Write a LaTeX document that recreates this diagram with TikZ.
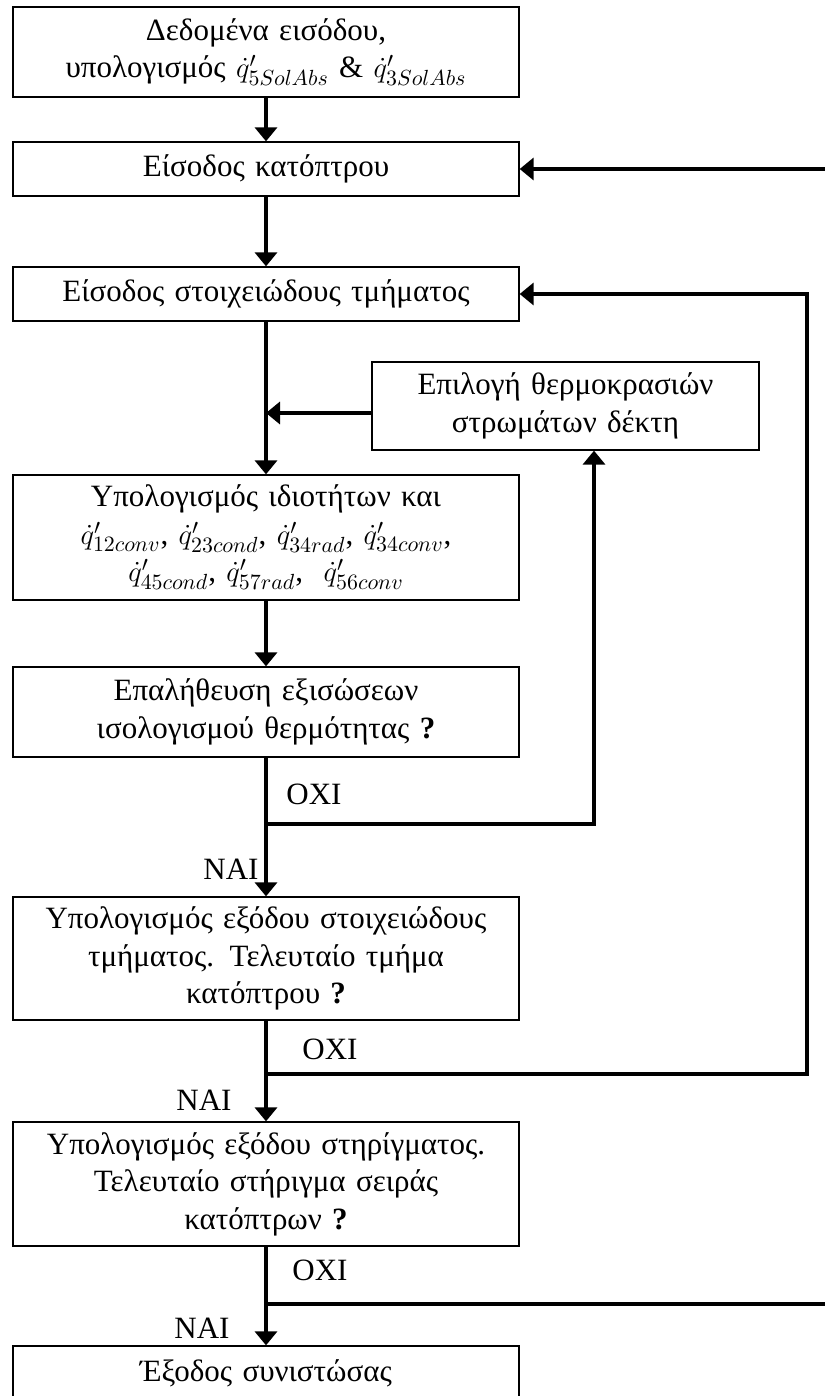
\documentclass[tikz,border=0pt]{standalone}
\usepackage{fontspec}
\setmainfont{Liberation Serif}
\usepackage{tikz}
\usetikzlibrary{arrows.meta}
\tikzstyle{block} = [rectangle, draw=black, line width=0.65pt, text centered, text width=245pt, inner xsep=4pt, inner ysep=2pt, minimum height=27pt, font=\fontsize{15.5}{18.75}\selectfont]
\tikzstyle{side} = [block, text width=185.5pt]
\tikzstyle{answer} = [font=\fontsize{15.5}{18.75}\selectfont, inner sep=0pt]
\tikzstyle{flow} = [draw, line width=2pt, -{Triangle[length=7pt,width=11pt]}]
\tikzstyle{line} = [draw, line width=2pt]

\begin{document}
\begin{tikzpicture}[x=0.5pt, y=-0.5pt]
\useasboundingbox (0,0) rectangle (824,1396);

\node (input) [block, minimum height=45pt] at (266,52) {Δεδομένα εισόδου,\\υπολογισμός $\dot{q}'_{5SolAbs}$ \& $\dot{q}'_{3SolAbs}$};
\node (mirror) [block, below of=input, node distance=58.5pt] {Είσοδος κατόπτρου};
\node (element) [block, below of=mirror, node distance=62.5pt] {Είσοδος στοιχειώδους τμήματος};
\node (props) [block, minimum height=62.5pt, below of=element, node distance=121.75pt] {Υπολογισμός ιδιοτήτων και\\$\dot{q}'_{12conv}$, $\dot{q}'_{23cond}$, $\dot{q}'_{34rad}$, $\dot{q}'_{34conv}$,\\$\dot{q}'_{45cond}$, $\dot{q}'_{57rad}$,\ \ $\dot{q}'_{56conv}$};
\node (check) [block, minimum height=45pt, below of=props, node distance=87.25pt] {Επαλήθευση εξισώσεων\\ισολογισμού θερμότητας \textbf{?}};
\node (output) [block, minimum height=61.5pt, below of=check, node distance=123.25pt] {Υπολογισμός εξόδου στοιχειώδους\\τμήματος. Τελευταίο τμήμα\\κατόπτρου \textbf{?}};
\node (support) [block, minimum height=62pt, below of=output, node distance=112.75pt] {Υπολογισμός εξόδου στηρίγματος.\\Τελευταίο στήριγμα σειράς\\κατόπτρων \textbf{?}};
\node (exit) [block, below of=support, node distance=94.5pt] {Έξοδος συνιστώσας};
\node (temps) [side, minimum height=44pt] at (565.5,406) {Επιλογή θερμοκρασιών\\στρωμάτων δέκτη};

\coordinate (j1) at (266,824);
\coordinate (j2) at (266,1074);
\coordinate (j3) at (266,1304);
\coordinate (loopx) at (807,1074);
\coordinate (edge1) at (830,169);
\coordinate (edge3) at (830,1304);

\node (no1) [answer] at (314,794) {ΟΧΙ};
\node (yes1) [answer] at (231,869) {ΝΑΙ};
\node (no2) [answer] at (330,1049) {ΟΧΙ};
\node (yes2) [answer] at (204,1100) {ΝΑΙ};
\node (no3) [answer] at (320,1270) {ΟΧΙ};
\node (yes3) [answer] at (202,1328) {ΝΑΙ};

\draw [flow] (input) -- (mirror);
\draw [flow] (mirror) -- (element);
\draw [flow] (element) -- (props);
\draw [flow] ([yshift=-3.5pt]temps.west) -- ([yshift=-3.5pt]temps.west -| props.north);
\draw [flow] (props) -- (check);
\draw [flow] (check) -- (output);
\draw [flow] (j1) -| ([xshift=14.25pt]temps.south);
\draw [flow] (output) -- (support);
\draw [flow] (j2) -| (loopx |- element.east) -- (element.east);
\draw [flow] (support) -- (exit);
\draw [line] (j3) -- (edge3);
\draw [flow] (edge1) -- (mirror.east);

\end{tikzpicture}
\end{document}
